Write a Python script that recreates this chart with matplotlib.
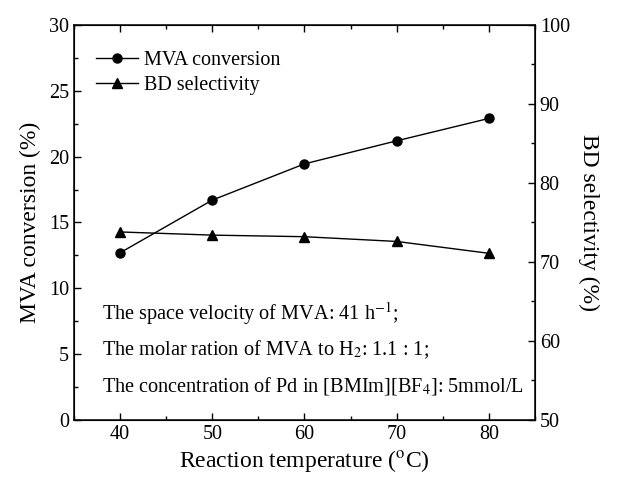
import matplotlib
matplotlib.use("Agg")
import matplotlib.pyplot as plt
from matplotlib.ticker import MultipleLocator
from matplotlib.lines import Line2D

plt.rcParams["font.family"] = ["Liberation Serif", "DejaVu Serif"]
plt.rcParams["mathtext.fontset"] = "stix"

temps = [40, 50, 60, 70, 80]
mva_conv = [12.7, 16.7, 19.45, 21.2, 22.9]
bd_sel = [73.8, 73.4, 73.2, 72.6, 71.1]

notes = [
    "The space velocity of MVA: 41 h$^{\\mathrm{-1}}$;",
    "The molar ration of MVA to H$_{\\mathrm{2}}$: 1.1 : 1;",
    "The concentration of Pd in [BMIm][BF$_{\\mathrm{4}}$]: 5mmol/L",
]

fig = plt.figure(figsize=(6.3, 4.8), dpi=100)
ax = fig.add_axes([0.1175, 0.125, 0.7315, 0.823])
ax2 = ax.twinx()

ax.plot(temps, mva_conv, color="black", lw=1, marker="o", ms=6.5)
ax2.plot(temps, bd_sel, color="black", lw=1, marker="^", ms=7.5)

ax.set_xlim(35, 85)
ax.set_ylim(0, 30)
ax2.set_ylim(50, 100)
ax.xaxis.set_major_locator(MultipleLocator(10))
ax.xaxis.set_minor_locator(MultipleLocator(5))
ax.yaxis.set_major_locator(MultipleLocator(5))
ax.yaxis.set_minor_locator(MultipleLocator(2.5))
ax2.yaxis.set_major_locator(MultipleLocator(10))
ax2.yaxis.set_minor_locator(MultipleLocator(5))

for a in (ax, ax2):
    a.tick_params(which="both", direction="in", labelsize=14.5)
    a.tick_params(which="major", length=5, width=1)
    a.tick_params(which="minor", length=3, width=1)
ax.tick_params(which="both", top=True)
for s in ax.spines.values():
    s.set_linewidth(1.1)

ax.set_xlabel("Reaction temperature ($^{\\mathrm{o}}$C)", fontsize=17, labelpad=3)
ax.set_ylabel("MVA conversion (%)", fontsize=17, labelpad=6)
ax2.set_ylabel("BD selectivity (%)", fontsize=17, rotation=270, labelpad=21)

handles = [
    Line2D([], [], color="black", lw=1, marker="o", ms=6.5),
    Line2D([], [], color="black", lw=1, marker="^", ms=7.5),
]
ax.legend(handles, ["MVA conversion", "BD selectivity"], loc="upper left",
          frameon=False, fontsize=14.5, handlelength=2.1, handletextpad=0.3,
          borderaxespad=0.0, borderpad=0.0, labelspacing=0.3,
          bbox_to_anchor=(0.048, 0.935))

for yv, txt in zip([8.1, 5.35, 2.6], notes):
    ax.text(38.0, yv, txt, fontsize=14.6, va="center")

fig.savefig("out.png", dpi=100)
